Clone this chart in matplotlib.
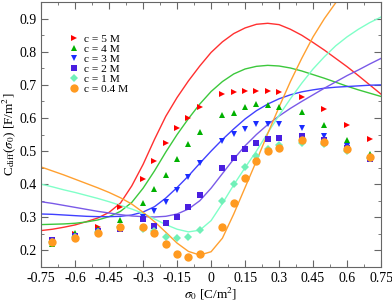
import matplotlib
matplotlib.use('Agg')
import matplotlib.pyplot as plt
from matplotlib.ticker import MultipleLocator

plt.rcParams['font.family'] = ['Liberation Serif', 'DejaVu Serif']
plt.rcParams['mathtext.fontset'] = 'stix'

# simulation points
sigma_pts = [-0.7, -0.6, -0.5, -0.4, -0.3, -0.25, -0.2, -0.15, -0.1, -0.05,
             0.05, 0.1, 0.15, 0.2, 0.25, 0.3, 0.4, 0.5, 0.6, 0.7]
c5_pts = [0.225, 0.25, 0.272, 0.33, 0.416, 0.47, 0.524, 0.569, 0.6, 0.632,
          0.671, 0.678, 0.682, 0.683, 0.683, 0.68, 0.662, 0.626, 0.58, 0.536]
c4_pts = [0.22, 0.254, 0.265, 0.293, 0.344, 0.385, 0.428, 0.477, 0.521, 0.557,
          0.608, 0.614, 0.632, 0.641, 0.638, 0.632, 0.617, 0.578, 0.533, 0.49]
c3_pts = [0.232, 0.245, 0.26, 0.268, 0.3, 0.318, 0.347, 0.383, 0.422, 0.465,
          0.53, 0.551, 0.566, 0.581, 0.581, 0.581, 0.57, 0.545, 0.515, 0.48]
c2_pts = [0.23, 0.245, 0.26, 0.264, 0.296, 0.275, 0.284, 0.302, 0.33, 0.367,
          0.448, 0.48, 0.506, 0.525, 0.538, 0.54, 0.545, 0.535, 0.51, 0.476]
c1_pts = [0.225, 0.242, 0.256, 0.27, 0.264, 0.26, 0.24, 0.237, 0.242, 0.263,
          0.35, 0.401, 0.452, 0.485, 0.505, 0.518, 0.525, 0.52, 0.5, 0.48]
c04_pts = [0.224, 0.239, 0.254, 0.272, 0.272, 0.254, 0.22, 0.19, 0.18, 0.19,
           0.272, 0.344, 0.42, 0.47, 0.5, 0.509, 0.533, 0.527, 0.506, 0.482]

# theory curves
sigma_line = [-0.75, -0.7, -0.65, -0.6, -0.55, -0.5, -0.45, -0.4, -0.35, -0.3,
              -0.25, -0.2, -0.15, -0.1, -0.05, 0.0, 0.05, 0.1, 0.15, 0.2,
              0.25, 0.3, 0.35, 0.4, 0.45, 0.5, 0.55, 0.6, 0.65, 0.7, 0.75]
c5_line = [0.26, 0.264, 0.27, 0.277, 0.287, 0.298, 0.315, 0.343, 0.395, 0.46,
           0.535, 0.605, 0.662, 0.712, 0.757, 0.798, 0.83, 0.855, 0.872, 0.883,
           0.886, 0.882, 0.868, 0.85, 0.828, 0.805, 0.78, 0.755, 0.728, 0.70, 0.672]
c4_line = [0.278, 0.279, 0.28, 0.282, 0.286, 0.292, 0.302, 0.318, 0.345, 0.388,
           0.44, 0.497, 0.55, 0.598, 0.642, 0.68, 0.71, 0.733, 0.748, 0.756,
           0.759, 0.757, 0.751, 0.742, 0.731, 0.72, 0.708, 0.696, 0.685, 0.675, 0.665]
c3_line = [0.31, 0.309, 0.307, 0.305, 0.303, 0.302, 0.302, 0.303, 0.307, 0.316,
           0.332, 0.358, 0.39, 0.425, 0.463, 0.5, 0.535, 0.567, 0.597, 0.622,
           0.642, 0.658, 0.67, 0.679, 0.685, 0.69, 0.693, 0.695, 0.697, 0.699, 0.70]
c2_line = [0.347, 0.342, 0.336, 0.33, 0.324, 0.318, 0.313, 0.308, 0.304, 0.302,
           0.301, 0.303, 0.31, 0.325, 0.35, 0.388, 0.432, 0.476, 0.516, 0.55,
           0.58, 0.606, 0.629, 0.65, 0.67, 0.69, 0.709, 0.728, 0.745, 0.763, 0.78]
c1_line = [0.40, 0.392, 0.383, 0.375, 0.366, 0.357, 0.347, 0.336, 0.325, 0.312,
           0.295, 0.278, 0.264, 0.256, 0.261, 0.29, 0.342, 0.398, 0.45, 0.50,
           0.555, 0.608, 0.658, 0.705, 0.748, 0.785, 0.818, 0.845, 0.868, 0.888, 0.905]
c04_line = [0.452, 0.44, 0.428, 0.415, 0.402, 0.389, 0.375, 0.359, 0.34, 0.315,
            0.287, 0.255, 0.222, 0.197, 0.186, 0.196, 0.237, 0.31, 0.39, 0.47,
            0.553, 0.633, 0.71, 0.78, 0.845, 0.9, 0.948, 0.99, 1.03, 1.07, 1.1]

labels = ['c = 5 M', 'c = 4 M', 'c = 3 M', 'c = 2 M', 'c = 1 M', 'c = 0.4 M']
pts = [c5_pts, c4_pts, c3_pts, c2_pts, c1_pts, c04_pts]
lines = [c5_line, c4_line, c3_line, c2_line, c1_line, c04_line]
marker_colors = ['#ff0000', '#00b000', '#1a2cff', '#4a1ee0', '#70f0b8', '#ff9a20']
line_colors = ['#ff3030', '#3cc83c', '#4040ff', '#7a5ae8', '#80ffc8', '#ffa030']
markers = ['>', '^', 'v', 's', 'D', 'o']
sizes = [5, 5, 5, 4.3, 3.8, 6]

fig = plt.figure(figsize=(3.92, 3.02), dpi=100)
ax = fig.add_axes([0.105, 0.116, 0.867, 0.877])

for yl, col in zip(lines, line_colors):
    ax.plot(sigma_line, yl, color=col, lw=1.0)
for yp, col, m, s, lab in zip(pts, marker_colors, markers, sizes, labels):
    ax.plot(sigma_pts, yp, linestyle='none', marker=m, color=col, ms=s,
            markeredgewidth=0, label=lab)

ax.set_xlim(-0.75, 0.75)
ax.set_ylim(0.15, 0.95)
ticks = [-0.75, -0.6, -0.45, -0.3, -0.15, 0, 0.15, 0.3, 0.45, 0.6, 0.75]
ax.set_xticks(ticks)
ax.set_xticklabels(['-0.75', '-0.6', '-0.45', '-0.3', '-0.15', '0',
                    '0.15', '0.3', '0.45', '0.6', '0.75'])
ax.set_yticks([0.2, 0.3, 0.4, 0.5, 0.6, 0.7, 0.8, 0.9])
ax.xaxis.set_minor_locator(MultipleLocator(0.075))
ax.yaxis.set_minor_locator(MultipleLocator(0.05))
ax.tick_params(which='both', direction='in', top=True, right=True,
               labelsize=10, color='#666666')
ax.tick_params(which='major', length=5)
ax.tick_params(which='minor', length=2.5)
for sp in ax.spines.values():
    sp.set_color('#666666')

ax.set_xlabel(r'$\sigma_0$ [C/m$^2$]', fontsize=9.5, labelpad=0)
ax.set_ylabel(r'C$_{\rm diff}$($\sigma_0$) [F/m$^2$]', fontsize=9.5, labelpad=1)

ax.legend(loc='upper left', bbox_to_anchor=(0.055, 0.906), frameon=False,
          fontsize=8.2, handletextpad=0.35, labelspacing=0.0, handlelength=1.2,
          borderpad=0.1)

plt.savefig('out.png', dpi=100)
